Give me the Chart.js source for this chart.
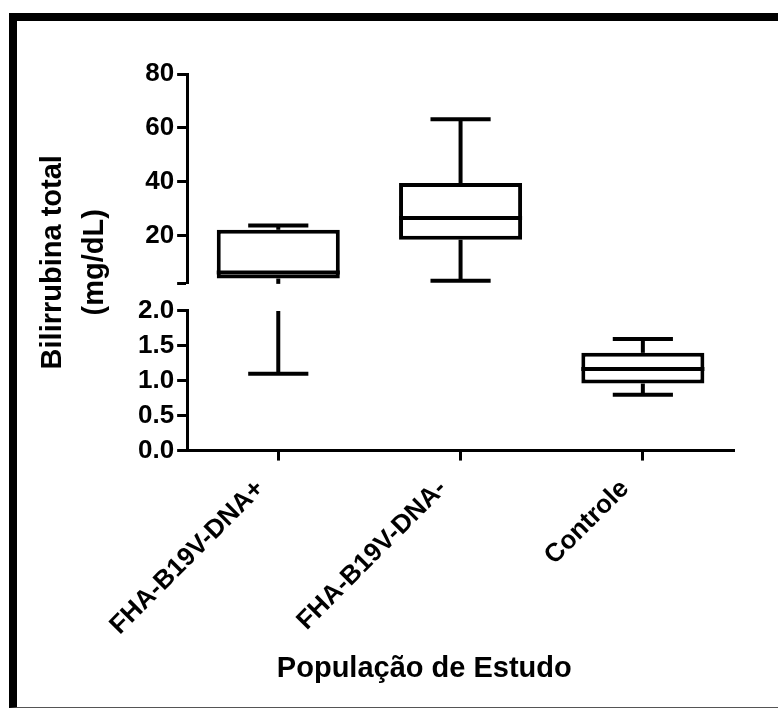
<!DOCTYPE html>
<html>
<head>
<meta charset="utf-8">
<script src="https://cdn.jsdelivr.net/npm/chart.js@4.4.0/dist/chart.umd.min.js"></script>
<style>
  html, body { margin: 0; padding: 0; background: #fff; overflow: hidden; }
  #wrap { position: relative; width: 778px; height: 709px; overflow: hidden; background: #fff; }
  #c { position: absolute; left: 0; top: 0; }
  #frame { position: absolute; left: 9px; top: 13px; width: 820px; height: 695px; box-sizing: border-box;
           border-left: 8px solid #000; border-top: 8px solid #000; border-bottom: 1px solid #555; pointer-events: none; }
</style>
</head>
<body>
<div id="wrap">
  <canvas id="c" width="778" height="709"></canvas>
  <div id="frame"></div>
</div>
<script>
// ---- data ----
const categories = ['FHA-B19V-DNA+', 'FHA-B19V-DNA-', 'Controle'];
const minValues    = [1.1, 3.2, 0.80];
const q1Values     = [4.0, 18.4, 0.96];
const medianValues = [6.2, 26.5, 1.17];
const q3Values     = [22.1, 39.5, 1.40];
const maxValues    = [23.7, 63.2, 1.60];

const upperRange = [2, 80];          // upper segment of the broken axis
const lowerRange = [0, 2];           // lower segment of the broken axis
const upperTicks = [20, 40, 60, 80];
const lowerTicks = [0.0, 0.5, 1.0, 1.5, 2.0];

const yTitleLines = ['Bilirrubina total', '(mg/dL)'];
const xTitle = 'População de Estudo';

// ---- datasets built from the arrays ----
const upperBoxes = categories.map((c, i) => q1Values[i] >= upperRange[0] ? [q1Values[i], q3Values[i]] : null);
const lowerBoxes = categories.map((c, i) => q3Values[i] <= lowerRange[1] ? [q1Values[i], q3Values[i]] : null);

const FONT = "'Liberation Sans', Arial, Helvetica, sans-serif";
const BAR_PCT = 0.675;
const CAP_PCT = 0.33;

const boxStyle = {
  grouped: false,
  backgroundColor: '#ffffff',
  borderColor: '#000000',
  borderWidth: 4,
  borderSkipped: false,
  barPercentage: BAR_PCT,
  categoryPercentage: 1
};

const boxWhiskers = {
  id: 'boxWhiskers',
  afterDatasetsDraw(chart) {
    const { ctx, scales } = chart;
    const x = scales.x, yTop = scales.yTop, yBot = scales.yBot;
    const step = x.getPixelForValue(1) - x.getPixelForValue(0);
    const halfBox = step * BAR_PCT / 2;
    const halfCap = step * CAP_PCT / 2;
    const scaleFor = v => (v >= upperRange[0] ? yTop : yBot);
    const segLine = (xp, a, b) => {
      const lo = Math.min(a, b), hi = Math.max(a, b);
      if (hi > upperRange[0]) {
        const l = Math.max(lo, upperRange[0]);
        ctx.beginPath();
        ctx.moveTo(xp, yTop.getPixelForValue(l));
        ctx.lineTo(xp, yTop.getPixelForValue(hi));
        ctx.stroke();
      }
      if (lo < lowerRange[1]) {
        const h = Math.min(hi, lowerRange[1]);
        ctx.beginPath();
        ctx.moveTo(xp, yBot.getPixelForValue(lo));
        ctx.lineTo(xp, yBot.getPixelForValue(h));
        ctx.stroke();
      }
    };
    const hLine = (xc, half, v) => {
      const yp = scaleFor(v).getPixelForValue(v);
      ctx.beginPath();
      ctx.moveTo(xc - half, yp);
      ctx.lineTo(xc + half, yp);
      ctx.stroke();
    };
    ctx.save();
    ctx.strokeStyle = '#000';
    ctx.lineWidth = 4;
    ctx.lineCap = 'butt';
    categories.forEach((c, i) => {
      const xc = x.getPixelForValue(i);
      segLine(xc, q3Values[i], maxValues[i]);
      segLine(xc, minValues[i], q1Values[i]);
      hLine(xc, halfCap, maxValues[i]);
      hLine(xc, halfCap, minValues[i]);
      hLine(xc, halfBox, medianValues[i]);
    });
    ctx.restore();
  }
};

const axisStyle = {
  grid: { display: true, drawOnChartArea: false, drawTicks: true, tickLength: 10, tickWidth: 3, tickColor: '#000' },
  border: { display: true, width: 3, color: '#000' }
};
const tickFont = { family: FONT, size: 26, weight: 'bold' };

new Chart(document.getElementById('c'), {
  type: 'bar',
  data: {
    labels: categories,
    datasets: [
      { data: upperBoxes, yAxisID: 'yTop', ...boxStyle },
      { data: lowerBoxes, yAxisID: 'yBot', ...boxStyle }
    ]
  },
  options: {
    responsive: false,
    animation: false,
    devicePixelRatio: 1,
    layout: { padding: { top: 74, left: 13, right: 44, bottom: 10 } },
    plugins: { legend: { display: false }, tooltip: { enabled: false }, title: { display: false }, colors: { enabled: false } },
    scales: {
      x: {
        type: 'category',
        offset: true,
        grid: { ...axisStyle.grid, offset: false },
        border: axisStyle.border,
        ticks: { color: '#000', font: { family: FONT, size: 26, weight: 'bold' }, minRotation: 45, maxRotation: 45,
                 autoSkip: false, padding: 13, labelOffset: -18 },
        title: { display: true, text: xTitle + '\u00A0'.repeat(9), color: '#000',
                 font: { family: FONT, size: 29, weight: 'bold', lineHeight: 1.2 }, padding: { top: -3, bottom: 13 } }
      },
      yTitle: {
        type: 'linear', position: 'left', weight: 10,
        grid: { display: false, drawTicks: false }, border: { display: false },
        ticks: { display: false },
        title: { display: true, text: yTitleLines, color: '#000',
                 font: { family: FONT, size: 29, weight: 'bold', lineHeight: 1.448 }, padding: { top: 19, bottom: 19 } }
      },
      yTop: {
        type: 'linear', position: 'left', stack: 'broken', stackWeight: 209, weight: 3,
        min: upperRange[0], max: upperRange[1],
        ...axisStyle,
        afterBuildTicks: s => { s.ticks = [upperRange[0], ...upperTicks].map(v => ({ value: v })); },
        ticks: { color: '#000', font: tickFont, padding: 3, autoSkip: false,
                 callback: v => (upperTicks.includes(v) ? String(v) : '') }
      },
      yGap: {
        type: 'linear', position: 'left', stack: 'broken', stackWeight: 27, weight: 2,
        display: false
      },
      yBot: {
        type: 'linear', position: 'left', stack: 'broken', stackWeight: 139, weight: 1,
        min: lowerRange[0], max: lowerRange[1],
        ...axisStyle,
        afterBuildTicks: s => { s.ticks = lowerTicks.map(v => ({ value: v })); },
        ticks: { color: '#000', font: tickFont, padding: 3, autoSkip: false, callback: v => Number(v).toFixed(1) }
      }
    }
  },
  plugins: [boxWhiskers]
});
</script>
</body>
</html>
